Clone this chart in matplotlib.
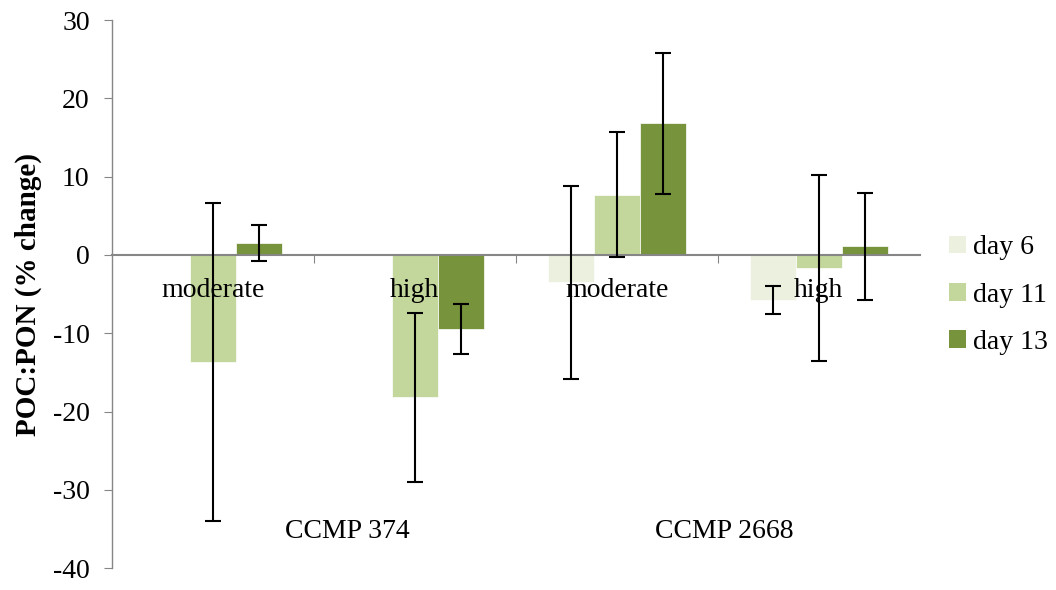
import matplotlib.pyplot as plt
import numpy as np
from matplotlib.patches import Patch

# Data
categories = ["moderate", "high", "moderate", "high"]
strains = ["CCMP 374", "CCMP 2668"]
series_names = ["day 6", "day 11", "day 13"]
day6 = [np.nan, np.nan, -3.5, -5.8]
day11 = [-13.7, -18.2, 7.7, -1.7]
day13 = [1.5, -9.4, 16.8, 1.1]
day6_err = [np.nan, np.nan, 12.3, 1.8]
day11_err = [20.3, 10.8, 8.0, 11.9]
day13_err = [2.3, 3.2, 9.0, 6.8]
yticks = [-40, -30, -20, -10, 0, 10, 20, 30]

colors = ["#EBF1DE", "#C3D69B", "#77933C"]
AXIS_GRAY = "#868686"

plt.rcParams['font.family'] = ['Liberation Serif', 'DejaVu Serif']
plt.rcParams['axes.unicode_minus'] = False

fig = plt.figure(figsize=(10.56, 5.9), dpi=100)
ax = fig.add_axes([0.106, 0.037, 0.765, 0.929])

x = np.arange(len(categories))
width = 0.228
values = [day6, day11, day13]
errors = [day6_err, day11_err, day13_err]
for i, (vals, errs) in enumerate(zip(values, errors)):
    xpos = x + (i - 1) * width
    ax.bar(xpos, vals, width, color=colors[i], edgecolor='white', linewidth=0.5,
           zorder=2)
    ax.errorbar(xpos, vals, yerr=errs, fmt='none', ecolor='black',
                elinewidth=1.5, capsize=6, capthick=1.5, zorder=3)

ax.set_xlim(-0.5, len(categories) - 0.5)
ax.set_ylim(-40, 30)
ax.set_yticks(yticks)
ax.tick_params(axis='y', direction='out', length=6, color=AXIS_GRAY,
               labelsize=20, pad=10)

# x axis sits on zero, ticks at category boundaries
ax.spines['top'].set_visible(False)
ax.spines['right'].set_visible(False)
ax.spines['bottom'].set_position(('data', 0))
ax.spines['bottom'].set_color(AXIS_GRAY)
ax.spines['bottom'].set_linewidth(1.5)
ax.spines['left'].set_color(AXIS_GRAY)
ax.spines['left'].set_linewidth(1.0)
ax.set_xticks(np.arange(0.5, len(categories) - 0.5, 1.0))
ax.set_xticklabels([])
ax.tick_params(axis='x', direction='out', length=6, color=AXIS_GRAY)

for xi, cat in zip(x, categories):
    ax.text(xi, -4.5, cat, ha='center', va='center', fontsize=20, zorder=4)

ax.text(0.291, 0.066, strains[0], transform=ax.transAxes, ha='center',
        va='center', fontsize=20)
ax.text(0.758, 0.066, strains[1], transform=ax.transAxes, ha='center',
        va='center', fontsize=20)

ax.set_ylabel("POC:PON (% change)", fontsize=21, fontweight='bold', labelpad=8)

handles = [Patch(facecolor=c, edgecolor='none') for c in colors]
fig.legend(handles, series_names, loc='center left', bbox_to_anchor=(0.899, 0.5),
           frameon=False, fontsize=20, handlelength=0.6, handleheight=0.6,
           handletextpad=0.25, labelspacing=0.8, borderpad=0, borderaxespad=0)

fig.savefig("out.png", dpi=100)
